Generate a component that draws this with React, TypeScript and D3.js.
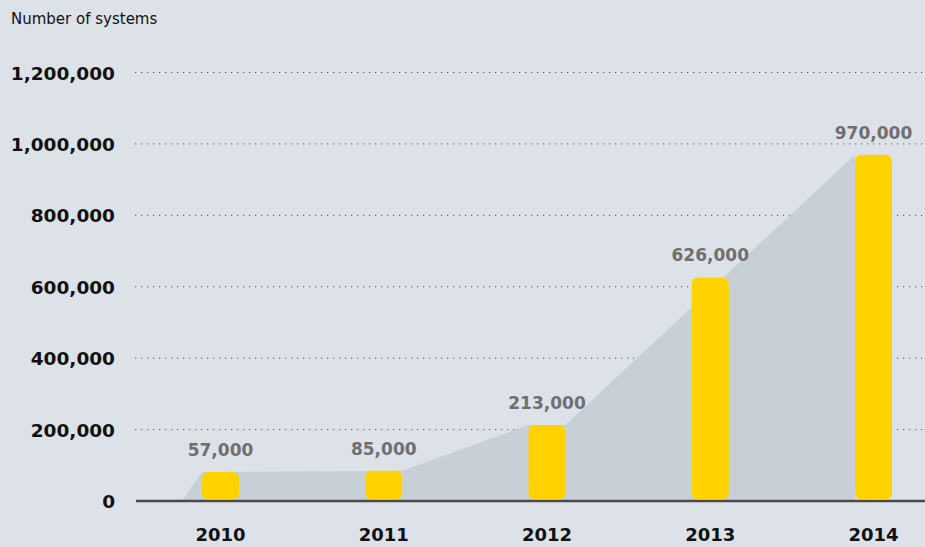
import React from "react";
import * as d3 from "d3";

const years = ["2010", "2011", "2012", "2013", "2014"];
const values = [57000, 85000, 213000, 626000, 970000];
const valueLabels = ["57,000", "85,000", "213,000", "626,000", "970,000"];
const yTicks = [0, 200000, 400000, 600000, 800000, 1000000, 1200000];
const yTickLabels = ["0", "200,000", "400,000", "600,000", "800,000", "1,000,000", "1,200,000"];
const title = "Number of systems";

const W = 925;
const H = 547;
const FONT = "'DejaVu Sans', sans-serif";

export default function App() {
  const y = d3.scaleLinear().domain([0, 1200000]).range([501, 72.5]);
  const x = d3.scalePoint<string>().domain(years).range([220.5, 873.5]);
  const barW = 37;
  const minH = 29;
  const barTop = (v: number) => Math.min(y(v), y(0) - minH);

  const left = (i: number) => (x(years[i]) as number) - barW / 2;
  const right = (i: number) => (x(years[i]) as number) + barW / 2;

  const areaPts: [number, number][] = [
    [left(0) - 20, y(0)],
    [left(0), barTop(values[0])],
    [right(1), barTop(values[1])],
    [left(2), barTop(values[2])],
    [right(2), barTop(values[2])],
    [left(4), barTop(values[4])],
    [left(4), y(0)],
  ];
  const areaPath = d3.line()(areaPts) + "Z";

  return (
    <svg width={W} height={H} style={{ position: "absolute", left: 0, top: 0 }}>
      <rect x={0} y={0} width={W} height={H} fill="#dde2e8" />
      <text x={11} y={24} fontFamily={FONT} fontSize={15} fill="#111">
        {title}
      </text>
      {yTicks.map((t, i) => (
        <g key={t}>
          {t > 0 && (
            <line
              x1={135}
              x2={W}
              y1={y(t)}
              y2={y(t)}
              stroke="#555"
              strokeWidth={1}
              strokeDasharray="1.2,4.8"
            />
          )}
          <text
            x={115}
            y={y(t) + 7}
            textAnchor="end"
            fontFamily={FONT}
            fontWeight="bold"
            fontSize={18.5}
            fill="#111"
          >
            {yTickLabels[i]}
          </text>
        </g>
      ))}
      <path d={areaPath} fill="#c8d0d7" />
      <line x1={136} x2={W} y1={y(0)} y2={y(0)} stroke="#4a4a4a" strokeWidth={2.5} />
      {years.map((yr, i) => {
        const top = barTop(values[i]);
        return (
          <g key={yr}>
            <rect
              x={left(i)}
              y={top}
              width={barW}
              height={y(0) - 1.5 - top}
              rx={6}
              ry={6}
              fill="#ffd200"
            />
            <text
              x={x(yr) as number}
              y={top - 16}
              textAnchor="middle"
              fontFamily={FONT}
              fontWeight="bold"
              fontSize={17}
              fill="#6f6f6f"
            >
              {valueLabels[i]}
            </text>
            <text
              x={x(yr) as number}
              y={541}
              textAnchor="middle"
              fontFamily={FONT}
              fontWeight="bold"
              fontSize={18}
              fill="#111"
            >
              {yr}
            </text>
          </g>
        );
      })}
    </svg>
  );
}
